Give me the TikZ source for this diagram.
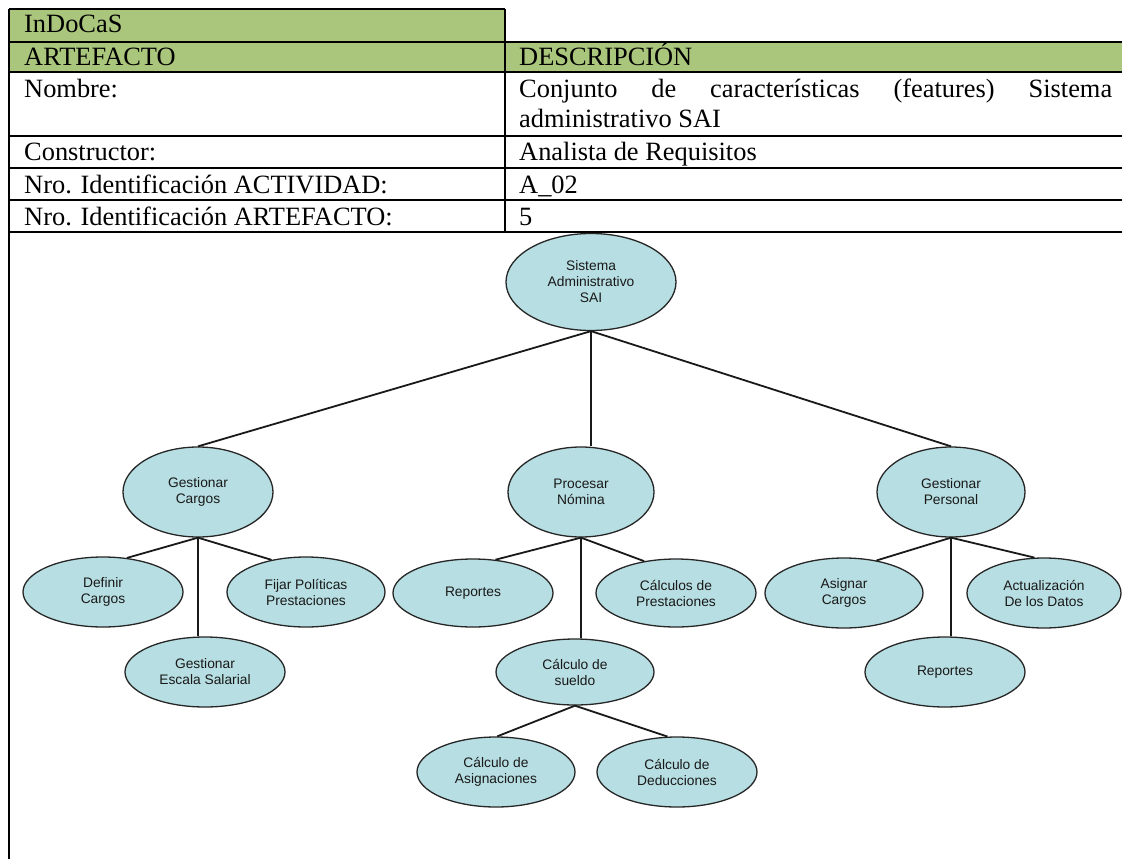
\documentclass[tikz,border=0pt]{standalone}
\usepackage{fontspec}
\setmainfont{Liberation Serif}
\newfontfamily\diagfont{Liberation Sans}
\usetikzlibrary{shapes.geometric}
\definecolor{headgreen}{RGB}{170,197,124}
\definecolor{featfill}{RGB}{183,222,226}
\begin{document}
\begin{tikzpicture}[x=1pt,y=1pt,
  cell/.style={anchor=base west, inner sep=0pt, font=\fontsize{26.4}{29}\selectfont},
  feat/.style={ellipse, draw=black!85, line width=1.3pt, fill=featfill, inner sep=0pt,
               align=center, text=black!90, font=\diagfont\fontsize{13.8}{16}\selectfont},
  sz/.style 2 args={minimum width=#1pt, minimum height=#2pt},
  rule/.style={line width=2pt},
  link/.style={line width=1.8pt, black!90}]
\useasboundingbox (0,0) rectangle (1122,-859);

% header fills
\fill[headgreen] (9,-9) rectangle (505,-42);
\fill[headgreen] (9,-42) rectangle (1122,-72);

% table rules
\draw[rule] (9,-9) -- (505,-9);
\foreach \yy in {42,72,136,168,200,232}
  \draw[rule] (9,-\yy) -- (1122,-\yy);
\draw[rule] (9,-9) -- (9,-859);
\draw[rule] (505,-9) -- (505,-232);

% table texts
\node[cell] (title) at (24,-33) {InDoCaS};
\node[cell] (hart)  at (24,-66) {ARTEFACTO};
\node[cell] (hdesc) at (519,-66) {DESCRIPCIÓN};
\node[cell] (lnom)  at (24,-97) {Nombre:};
\node[cell] (vnom1) at (519,-97) {\makebox[593pt][s]{Conjunto de características (features) Sistema}};
\node[cell] (vnom2) at (519,-127) {administrativo SAI};
\node[cell] (lcon)  at (24,-160) {Constructor:};
\node[cell] (vcon)  at (519,-160) {Analista de Requisitos};
\node[cell] (lact)  at (24,-193) {Nro. Identificación ACTIVIDAD:};
\node[cell] (vact)  at (519,-193) {A\_02};
\node[cell] (lart)  at (24,-225) {Nro. Identificación ARTEFACTO:};
\node[cell] (vart)  at (519,-225) {5};

% feature tree
\node[feat, sz={170}{97}] (sai) at (591,-282) {Sistema\\Administrativo\\SAI};

\node[feat, sz={150}{90}] (gc) at (198,-492) {Gestionar\\Cargos};
\node[feat, sz={146}{90}] (pn) at (581,-492) {Procesar\\Nómina};
\node[feat, sz={148}{90}] (gp) at (951,-492) {Gestionar\\Personal};

\node[feat, sz={160}{70}] (dc) at (103,-592) {Definir\\Cargos};
\node[feat, sz={158}{70}] (fp) at (306,-592) {Fijar Políticas\\Prestaciones};
\node[feat, sz={160}{70}] (ge) at (205,-672) {Gestionar\\Escala Salarial};

\node[feat, sz={160}{68}] (rep1) at (473,-593) {Reportes};
\node[feat, sz={160}{68}] (cp) at (676,-593) {Cálculos de\\Prestaciones};
\node[feat, sz={158}{66}] (cs) at (575,-672) {Cálculo de\\sueldo};
\node[feat, sz={158}{70}] (ca) at (496,-772) {Cálculo de\\Asignaciones};
\node[feat, sz={160}{70}] (cd) at (677,-772) {Cálculo de\\Deducciones};

\node[feat, sz={158}{70}] (ac) at (844,-593) {Asignar\\Cargos};
\node[feat, sz={154}{70}] (ad) at (1044,-593) {Actualización\\De los Datos};
\node[feat, sz={160}{70}] (rep2) at (945,-672) {Reportes};

% connectors
\draw[link] (sai.south) -- (gc.north);
\draw[link] (sai.south) -- (sai.south |- pn.north);
\draw[link] (sai.south) -- (gp.north);

\draw[link] (gc.south) -- (dc.55);
\draw[link] (gc.south) -- (gc.south |- ge.north);
\draw[link] (gc.south) -- (fp.137);

\draw[link] (pn.south) -- (rep1.56);
\draw[link] (pn.south) -- (pn.south |- cs.north);
\draw[link] (pn.south) -- (cp.135);

\draw[link] (cs.south) -- (ca.88);
\draw[link] (cs.south) -- (cd.105);

\draw[link] (gp.south) -- (ac.45);
\draw[link] (gp.south) -- (gp.south |- rep2.north);
\draw[link] (gp.south) -- (ad.105);
\end{tikzpicture}
\end{document}
